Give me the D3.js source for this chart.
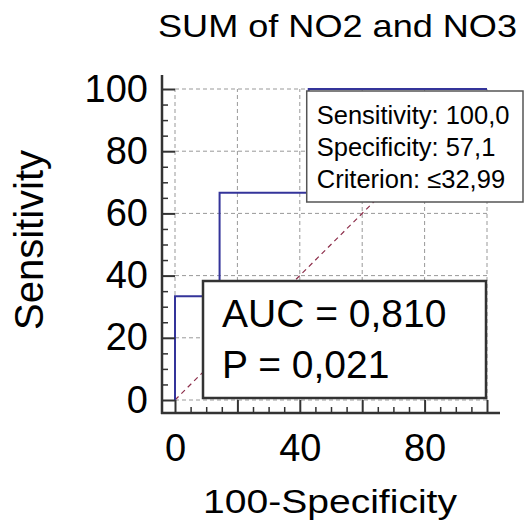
<!DOCTYPE html>
<html>
<head>
<meta charset="utf-8">
<script src="https://cdn.jsdelivr.net/npm/d3@7"></script>
<style>
  body { margin: 0; background: #fff; }
  svg { display: block; font-family: "Liberation Sans", Arial, sans-serif; }
</style>
</head>
<body>
<div id="app"></div>
<script>
// ROC curve points (100-Specificity, Sensitivity)
const falsePos = [0, 0, 14.29, 14.29, 42.86, 42.86, 100];
const sensitivity = [0, 33.33, 33.33, 66.67, 66.67, 100, 100];

// Criterion point shown with the label box
const criterion = { x: 42.86, y: 100 };

// Ticks
const majorTicks = [0, 20, 40, 60, 80, 100];
const minorTicks = d3.range(0, 101, 5).filter((d) => d % 20 !== 0);
const yTickLabels = [0, 20, 40, 60, 80, 100];
const xTickLabels = [0, 40, 80];

// Texts
const title = "SUM of NO2 and NO3";
const xTitle = "100-Specificity";
const yTitle = "Sensitivity";
const criterionLines = ["Sensitivity: 100,0", "Specificity: 57,1", "Criterion: \u226432,99"];
const statLines = ["AUC = 0,810", "P = 0,021"];

const width = 524;
const height = 526;

const svg = d3
  .select("#app")
  .append("svg")
  .attr("width", width)
  .attr("height", height);

const x = d3.scaleLinear().domain([0, 100]).range([175, 487]);
const y = d3.scaleLinear().domain([0, 100]).range([400, 89]);

const axisGap = 13;
const axisColor = "#333";

// Title
svg
  .append("text")
  .attr("x", 158)
  .attr("y", 37)
  .attr("font-size", 32)
  .attr("textLength", 359)
  .attr("lengthAdjust", "spacingAndGlyphs")
  .text(title);

// Grid
const grid = svg.append("g").attr("stroke", "#999").attr("stroke-dasharray", "4,3");
grid
  .selectAll("line.gx")
  .data(majorTicks)
  .join("line")
  .attr("x1", (d) => x(d))
  .attr("x2", (d) => x(d))
  .attr("y1", y(0))
  .attr("y2", y(100));
grid
  .selectAll("line.gy")
  .data(majorTicks)
  .join("line")
  .attr("class", "gy")
  .attr("x1", x(0))
  .attr("x2", x(100))
  .attr("y1", (d) => y(d))
  .attr("y2", (d) => y(d));

// Reference diagonal
svg
  .append("line")
  .attr("x1", x(0))
  .attr("y1", y(0))
  .attr("x2", x(100))
  .attr("y2", y(100))
  .attr("stroke", "#8c2d4a")
  .attr("stroke-width", 1.2)
  .attr("stroke-dasharray", "5,4");

// ROC curve
const line = d3
  .line()
  .x((d) => x(d[0]))
  .y((d) => y(d[1]));

svg
  .append("path")
  .datum(d3.zip(falsePos, sensitivity))
  .attr("fill", "none")
  .attr("stroke", "#34349a")
  .attr("stroke-width", 2)
  .attr("d", line);

// Y axis
const yAxisG = svg.append("g").attr("transform", `translate(${x(0) - axisGap},0)`);
yAxisG
  .call(
    d3.axisLeft(y).tickValues(majorTicks).tickSizeInner(-axisGap).tickSizeOuter(0).tickPadding(14)
      .tickFormat((d) => (yTickLabels.includes(d) ? d : ""))
  )
  .call((g) => g.select(".domain").remove())
  .call((g) => g.selectAll(".tick line").attr("stroke", axisColor).attr("stroke-width", 2))
  .call((g) =>
    g.selectAll(".tick text").attr("font-size", 38).attr("font-family", null).attr("fill", "#000")
  );
yAxisG
  .append("g")
  .call(d3.axisLeft(y).tickValues(minorTicks).tickSize(-6).tickFormat(""))
  .call((g) => g.select(".domain").remove())
  .call((g) => g.selectAll(".tick line").attr("stroke", axisColor).attr("stroke-width", 1.5));
yAxisG
  .append("line")
  .attr("x1", 0)
  .attr("x2", 0)
  .attr("y1", y(100) - 14)
  .attr("y2", y(0) + axisGap + 1)
  .attr("stroke", axisColor)
  .attr("stroke-width", 2.5);

// X axis
const xAxisG = svg.append("g").attr("transform", `translate(0,${y(0) + axisGap})`);
xAxisG
  .call(
    d3.axisBottom(x).tickValues(majorTicks).tickSizeInner(-axisGap).tickSizeOuter(0).tickPadding(21)
      .tickFormat((d) => (xTickLabels.includes(d) ? d : ""))
  )
  .call((g) => g.select(".domain").remove())
  .call((g) => g.selectAll(".tick line").attr("stroke", axisColor).attr("stroke-width", 2))
  .call((g) =>
    g.selectAll(".tick text").attr("font-size", 38).attr("font-family", null).attr("fill", "#000")
  );
xAxisG
  .append("g")
  .call(d3.axisBottom(x).tickValues(minorTicks).tickSize(-6).tickFormat(""))
  .call((g) => g.select(".domain").remove())
  .call((g) => g.selectAll(".tick line").attr("stroke", axisColor).attr("stroke-width", 1.5));
xAxisG
  .append("line")
  .attr("x1", x(0) - axisGap - 1)
  .attr("x2", x(100) + 13)
  .attr("y1", 0)
  .attr("y2", 0)
  .attr("stroke", axisColor)
  .attr("stroke-width", 2.5);

// Axis titles
svg
  .append("text")
  .attr("transform", "translate(43,240) rotate(-90)")
  .attr("text-anchor", "middle")
  .attr("font-size", 40)
  .text(yTitle);

svg
  .append("text")
  .attr("x", 203)
  .attr("y", 513)
  .attr("font-size", 33)
  .attr("textLength", 254)
  .attr("lengthAdjust", "spacingAndGlyphs")
  .text(xTitle);

// Criterion box
const cx = x(criterion.x) - 2;
const cy = y(criterion.y) + 2;
const critBox = svg.append("g").attr("transform", `translate(${cx},${cy})`);
critBox
  .append("rect")
  .attr("width", width - 1 - cx)
  .attr("height", 111)
  .attr("fill", "#fff")
  .attr("stroke", "#555")
  .attr("stroke-width", 1.5);
critBox
  .selectAll("text")
  .data(criterionLines)
  .join("text")
  .attr("x", 10)
  .attr("y", (d, i) => 33 + i * 32)
  .attr("font-size", 25.5)
  .text((d) => d);

// AUC box
const aucBox = svg.append("g").attr("transform", "translate(203,281)");
aucBox
  .append("rect")
  .attr("width", 283)
  .attr("height", 117)
  .attr("fill", "#fff")
  .attr("stroke", "#333")
  .attr("stroke-width", 2.5);
aucBox
  .selectAll("text")
  .data(statLines)
  .join("text")
  .attr("x", 19)
  .attr("y", (d, i) => 46 + i * 51)
  .attr("font-size", 39)
  .text((d) => d);
</script>
</body>
</html>
